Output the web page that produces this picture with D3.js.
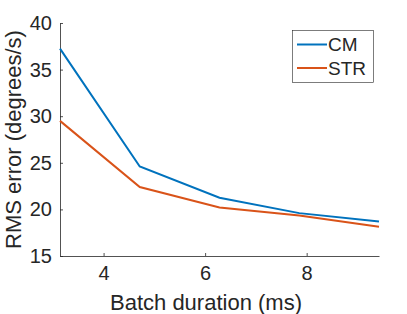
<!DOCTYPE html>
<html>
<head>
<meta charset="utf-8">
<script src="https://cdn.jsdelivr.net/npm/d3@7"></script>
<style>
  body { margin: 0; background: #fff; }
  text { font-family: "Liberation Sans", Arial, sans-serif; fill: #262626; }
</style>
</head>
<body>
<div id="plot"></div>
<script>
// batch durations (ms) and RMS errors (degrees/s)
let duration = [3.1416, 4.7124, 6.2832, 7.854, 9.4248];
let cm = [37.25, 24.6, 21.25, 19.6, 18.7];
let str = [29.5, 22.4, 20.2, 19.35, 18.15];
let xTicks = [4, 6, 8];
let yTicks = [15, 20, 25, 30, 35, 40];
let series = [
  { name: "CM", values: cm, color: "#0072BD" },
  { name: "STR", values: str, color: "#D95319" }
];

let width = 407;
let height = 314;
let mLeft = 60, mRight = 379, mTop = 23, mBottom = 256;

let svg = d3.select("#plot")
  .append("svg")
    .attr("width", width)
    .attr("height", height);

let x = d3.scaleLinear()
  .domain([duration[0], duration[duration.length - 1]])
  .range([mLeft, mRight]);

let y = d3.scaleLinear()
  .domain([15, 40])
  .range([mBottom, mTop]);

// x axis, ticks pointing inward like matlab
let xAxis = svg.append("g")
  .attr("transform", "translate(0," + mBottom + ")")
  .call(d3.axisBottom(x).tickValues(xTicks).tickFormat(d3.format("d"))
    .tickSizeInner(-3).tickSizeOuter(0).tickPadding(10));

let yAxis = svg.append("g")
  .attr("transform", "translate(" + mLeft + ",0)")
  .call(d3.axisLeft(y).tickValues(yTicks).tickFormat(d3.format("d"))
    .tickSizeInner(-3).tickSizeOuter(0).tickPadding(8));

[xAxis, yAxis].forEach(function(a) {
  a.select(".domain").attr("stroke", "#262626").attr("stroke-width", 0.8);
  a.selectAll(".tick line").attr("stroke", "#262626").attr("stroke-width", 0.8);
  a.selectAll(".tick text")
    .style("font-size", "20px")
    .style("font-family", "Liberation Sans, Arial, sans-serif")
    .attr("fill", "#262626");
});

// lines
let line = d3.line()
  .x(function(d, i) { return x(duration[i]); })
  .y(function(d) { return y(d); });

svg.selectAll(".series")
  .data(series)
  .enter()
  .append("path")
    .attr("d", function(d) { return line(d.values); })
    .attr("fill", "none")
    .attr("stroke", function(d) { return d.color; })
    .attr("stroke-width", 2);

// axis labels
svg.append("text")
  .attr("x", 206)
  .attr("y", 310)
  .style("text-anchor", "middle")
  .style("font-size", "22px")
  .text("Batch duration (ms)");

svg.append("text")
  .attr("transform", "translate(21," + ((mTop + mBottom) / 2) + ") rotate(-90)")
  .style("text-anchor", "middle")
  .style("font-size", "22px")
  .text("RMS error (degrees/s)");

// legend
let legend = svg.append("g");
legend.append("rect")
  .attr("x", 292.5)
  .attr("y", 30.5)
  .attr("width", 81)
  .attr("height", 52)
  .attr("fill", "#fff")
  .attr("stroke", "#262626")
  .attr("stroke-width", 0.6);

let items = legend.selectAll(".item")
  .data(series)
  .enter()
  .append("g")
    .attr("transform", function(d, i) { return "translate(0," + (44.5 + i * 23.5) + ")"; });

items.append("line")
  .attr("x1", 297)
  .attr("x2", 327)
  .attr("stroke", function(d) { return d.color; })
  .attr("stroke-width", 2);

items.append("text")
  .attr("x", 328)
  .attr("dy", "0.36em")
  .style("font-size", "19px")
  .text(function(d) { return d.name; });
</script>
</body>
</html>
